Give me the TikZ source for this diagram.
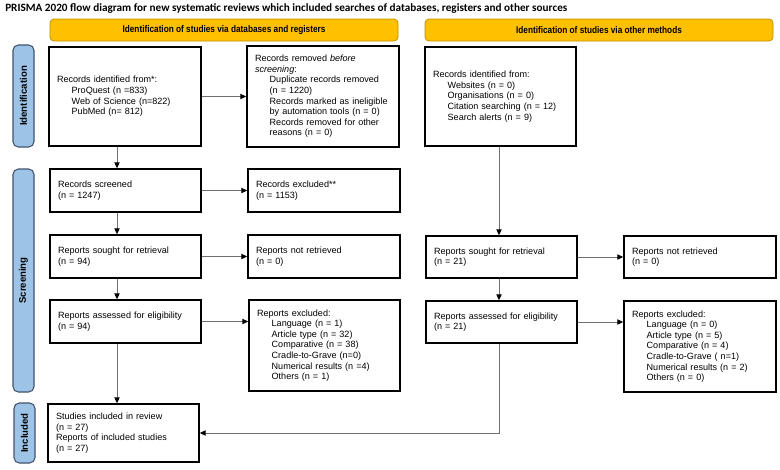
\documentclass[tikz,border=0pt]{standalone}
\usepackage{fontspec}
\setmainfont{Liberation Sans}
\newfontfamily\titlefont{Carlito}
\newfontfamily\hdrfont[FakeStretch=0.85]{Liberation Sans}
\usetikzlibrary{arrows.meta}
\definecolor{hdrfill}{HTML}{FFC000}
\definecolor{hdrdraw}{HTML}{BF9000}
\definecolor{lblfill}{HTML}{9DC3E6}
\definecolor{lbldraw}{HTML}{41536B}
\definecolor{linegray}{HTML}{707070}
\newcommand{\subi}{\hspace*{11pt}}
\begin{document}
\begin{tikzpicture}[x=0.75pt,y=-0.75pt,
  box/.style={draw=black, line width=1.1pt, fill=white, inner xsep=6pt, inner ysep=2pt, align=left, font=\fontsize{6.8}{7.95}\selectfont},
  hdr/.style={draw=hdrdraw, fill=hdrfill, rounded corners=3pt, line width=0.6pt, font=\hdrfont\bfseries\fontsize{7.27}{9}\selectfont, minimum height=16.5pt, inner sep=0pt},
  lbl/.style={draw=lbldraw, fill=lblfill, rounded corners=4pt, line width=0.8pt, font=\bfseries\fontsize{7.2}{8}\selectfont, minimum height=15.75pt, inner sep=0pt, rotate=90},
  arr/.style={draw=linegray, line width=0.75pt, -{Triangle[length=4.5pt,width=4pt,color=black]}},
  ln/.style={draw=linegray, line width=0.75pt}]
\useasboundingbox[fill=white] (0,0) rectangle (780,469);

\node[anchor=west, font=\titlefont\bfseries\fontsize{8.4}{10}\selectfont, inner sep=0pt] (title) at (5,8.5) {PRISMA 2020 flow diagram for new systematic reviews which included searches of databases, registers and other sources};

\node[hdr, minimum width=261pt] (h1) at (224,30) {Identification of studies via databases and registers};
\node[hdr, minimum width=261pt] (h2) at (599,30) {Identification of studies via other methods};

\node[lbl, minimum width=76.5pt] (l1) at (23.5,96) {Identification};
\node[lbl, minimum width=167.25pt] (l2) at (23.5,280.5) {Screening};
\node[lbl, minimum width=45pt] (l3) at (24.5,433) {Included};

\node[box, text width=102pt, minimum height=74.25pt] (A) at (125,96.5) {Records identified from*:\\ \subi ProQuest (n =833)\\ \subi Web of Science (n=822)\\ \subi PubMed (n= 812)};
\node[box, text width=102pt, minimum height=75.75pt] (B) at (323,96.5) {Records removed \textit{before}\\ \textit{screening}:\\ \subi Duplicate records removed\\ \subi (n = 1220)\\ \subi Records marked as ineligible\\ \subi by automation tools (n = 0)\\ \subi Records removed for other\\ \subi reasons (n = 0)};
\node[box, text width=101.25pt, minimum height=74.25pt] (C) at (500.5,96.5) {Records identified from:\\ \subi Websites (n = 0)\\ \subi Organisations (n = 0)\\ \subi Citation searching (n = 12)\\ \subi Search alerts (n = 9)};

\node[box, text width=101.25pt, minimum height=32.25pt] (scr) at (125.5,190.5) {Records screened\\ (n = 1247)};
\node[box, text width=102pt, minimum height=32.25pt] (exc) at (324,190.5) {Records excluded**\\ (n = 1153)};

\node[box, text width=101.25pt, minimum height=32.25pt] (sou) at (125.5,256.5) {Reports sought for retrieval\\ (n = 94)};
\node[box, text width=102pt, minimum height=32.25pt] (nre) at (324,256.5) {Reports not retrieved\\ (n = 0)};

\node[box, text width=101.25pt, minimum height=32.25pt] (ass) at (125.5,321.5) {Reports assessed for eligibility\\ (n = 94)};
\node[box, text width=101.25pt, minimum height=68.25pt] (rex) at (324.5,345.5) {Reports excluded:\\ \subi Language (n = 1)\\ \subi Article type (n = 32)\\ \subi Comparative (n = 38)\\ \subi Cradle-to-Grave (n=0)\\ \subi Numerical results (n =4)\\ \subi Others (n = 1)};

\node[box, text width=101.25pt, minimum height=43.5pt] (inc) at (123.5,433) {Studies included in review\\ (n = 27)\\ Reports of included studies\\ (n = 27)};

\node[box, text width=101.25pt, minimum height=31.5pt] (sou2) at (501.5,257) {Reports sought for retrieval\\ (n = 21)};
\node[box, text width=102pt, minimum height=31.5pt] (nre2) at (700,257) {Reports not retrieved\\ (n = 0)};
\node[box, text width=101.25pt, minimum height=31.5pt] (ass2) at (501.5,322) {Reports assessed for eligibility\\ (n = 21)};
\node[box, text width=102pt, minimum height=68.25pt] (rex2) at (700,346.5) {Reports excluded:\\ \subi Language (n = 0)\\ \subi Article type (n = 5)\\ \subi Comparative (n = 4)\\ \subi Cradle-to-Grave ( n=1)\\ \subi Numerical results (n = 2)\\ \subi Others (n = 0)};

\coordinate (c1) at (117,0);
\coordinate (c2) at (499,0);

\draw[arr] (A.east) -- (B.west);
\draw[arr] (A.south -| c1) -- (scr.north -| c1);
\draw[arr] (scr.east) -- (exc.west);
\draw[arr] (scr.south -| c1) -- (sou.north -| c1);
\draw[arr] (sou.east) -- (nre.west);
\draw[arr] (sou.south -| c1) -- (ass.north -| c1);
\draw[arr] (ass.east) -- (ass.east -| rex.west);
\draw[arr] (ass.south -| c1) -- (inc.north -| c1);

\draw[arr] (C.south -| c2) -- (sou2.north -| c2);
\draw[arr] (sou2.east) -- (nre2.west);
\draw[arr] (sou2.south -| c2) -- (ass2.north -| c2);
\draw[arr] (ass2.east) -- (ass2.east -| rex2.west);
\draw[arr] (ass2.south -| c2) |- (inc.east);
\end{tikzpicture}
\end{document}
